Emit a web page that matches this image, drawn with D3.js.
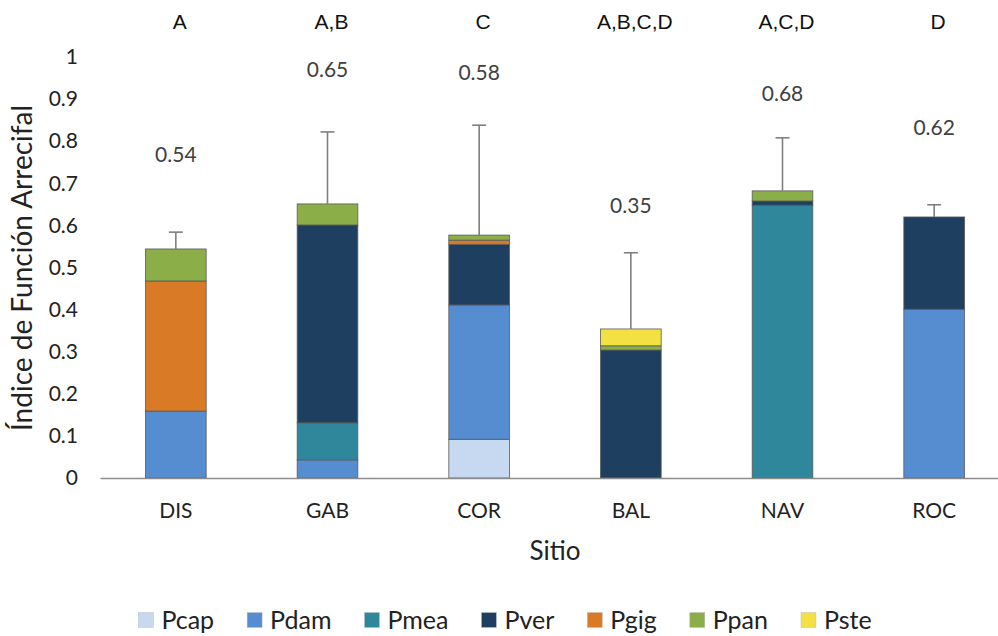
<!DOCTYPE html>
<html>
<head>
<meta charset="utf-8">
<script src="https://cdn.jsdelivr.net/npm/d3@7/dist/d3.min.js"></script>
<style>
  html, body { margin: 0; padding: 0; background: #fff; }
  svg { display: block; }
</style>
</head>
<body>
<svg id="chart" width="998" height="636"></svg>
<script>
// Sites (x categories)
const sites = ["DIS", "GAB", "COR", "BAL", "NAV", "ROC"];

// Species contributions to the reef function index, per site
const species = ["Pcap", "Pdam", "Pmea", "Pver", "Pgig", "Ppan", "Pste"];
const Pcap = [0,     0,     0.092, 0,     0,     0];
const Pdam = [0.159, 0.043, 0.319, 0,     0,     0.401];
const Pmea = [0,     0.088, 0,     0,     0.648, 0];
const Pver = [0,     0.470, 0.144, 0.304, 0.010, 0.219];
const Pgig = [0.309, 0,     0.010, 0,     0,     0];
const Ppan = [0.076, 0.050, 0.012, 0.010, 0.024, 0];
const Pste = [0,     0,     0,     0.040, 0,     0];

// Upper error (SD) on each site total
const errUp = [0.040, 0.171, 0.261, 0.181, 0.126, 0.029];

// Significance groups above each site
const groups = ["A", "A,B", "C", "A,B,C,D", "A,C,D", "D"];

// Y axis ticks
const yTicks = [0, 0.1, 0.2, 0.3, 0.4, 0.5, 0.6, 0.7, 0.8, 0.9, 1];

// Height (in index units) at which each total label sits
const totalLabelAt = [0.767, 0.969, 0.962, 0.648, 0.914, 0.831];

const colors = {
  Pcap: "#c6d9f0",
  Pdam: "#568dd0",
  Pmea: "#2e879b",
  Pver: "#1f3f60",
  Pgig: "#d97a27",
  Ppan: "#8cae48",
  Pste: "#f3e042"
};

const seriesValues = { Pcap, Pdam, Pmea, Pver, Pgig, Ppan, Pste };
const rows = sites.map((s, i) => {
  const r = { site: s };
  species.forEach(sp => r[sp] = seriesValues[sp][i]);
  return r;
});
const totals = rows.map(r => d3.sum(species, sp => r[sp]));

const svg = d3.select("#chart");
const uiFont = "Lato, 'Open Sans', sans-serif";

const x = d3.scaleBand()
  .domain(sites)
  .range([100, 1010])
  .paddingInner(0.6)
  .paddingOuter(0.3);

const y = d3.scaleLinear()
  .domain([0, 1])
  .range([478, 57]);

// Y axis: labels only
const yAxis = svg.append("g")
  .attr("transform", "translate(80,0)")
  .call(d3.axisLeft(y).tickValues(yTicks).tickSize(0).tickPadding(2)
    .tickFormat(d => d3.format(".1~f")(d)));
yAxis.select(".domain").remove();
yAxis.selectAll("text")
  .attr("font-family", uiFont)
  .attr("font-size", 21)
  .attr("fill", "#222");

// Stacked bars
const stack = d3.stack().keys(species);
const layers = stack(rows);

svg.append("g")
  .selectAll("g")
  .data(layers)
  .join("g")
  .attr("fill", d => colors[d.key])
  .selectAll("rect")
  .data(d => d.filter(p => p[1] - p[0] > 0))
  .join("rect")
  .attr("x", d => x(d.data.site))
  .attr("width", x.bandwidth())
  .attr("y", d => y(d[1]))
  .attr("height", d => y(d[0]) - y(d[1]))
  .attr("stroke", "#5a5a5a")
  .attr("stroke-width", 0.8);

// Error bars (upper only)
const eb = svg.append("g").attr("stroke", "#7f7f7f").attr("stroke-width", 1.6);
sites.forEach((s, i) => {
  const cx = x(s) + x.bandwidth() / 2;
  eb.append("line")
    .attr("x1", cx).attr("x2", cx)
    .attr("y1", y(totals[i])).attr("y2", y(totals[i] + errUp[i]));
  eb.append("line")
    .attr("x1", cx - 7).attr("x2", cx + 7)
    .attr("y1", y(totals[i] + errUp[i])).attr("y2", y(totals[i] + errUp[i]));
});

// X axis
const xAxis = svg.append("g")
  .attr("transform", "translate(0,478)")
  .call(d3.axisBottom(x).tickSize(0).tickSizeOuter(0));
xAxis.select(".domain").attr("stroke", "#8c8c8c").attr("stroke-width", 1.3);
xAxis.selectAll("text")
  .attr("font-family", uiFont)
  .attr("font-size", 21)
  .attr("fill", "#222")
  .attr("y", 33)
  .attr("dy", "0.35em");

// Total value labels
svg.append("g")
  .selectAll("text")
  .data(sites)
  .join("text")
  .attr("x", d => x(d) + x.bandwidth() / 2)
  .attr("y", (d, i) => y(totalLabelAt[i]))
  .attr("dy", "0.35em")
  .attr("text-anchor", "middle")
  .attr("font-family", uiFont)
  .attr("font-size", 21)
  .attr("fill", "#404040")
  .text((d, i) => d3.format(".2f")(totals[i]));

// Significance letters
svg.append("g")
  .selectAll("text")
  .data(sites)
  .join("text")
  .attr("x", d => x(d) + x.bandwidth() / 2 + 4)
  .attr("y", 22)
  .attr("dy", "0.35em")
  .attr("text-anchor", "middle")
  .attr("font-family", "'Liberation Sans', Arial, sans-serif")
  .attr("font-size", 21)
  .attr("fill", "#111")
  .text((d, i) => groups[i]);

// Axis titles
svg.append("text")
  .attr("transform", "translate(22,268) rotate(-90)")
  .attr("text-anchor", "middle")
  .attr("dy", "0.35em")
  .attr("font-family", uiFont)
  .attr("font-size", 28)
  .attr("fill", "#222")
  .text("Índice de Función Arrecifal");

svg.append("text")
  .attr("x", 555)
  .attr("y", 551)
  .attr("dy", "0.35em")
  .attr("text-anchor", "middle")
  .attr("font-family", uiFont)
  .attr("font-size", 26)
  .attr("fill", "#222")
  .text("Sitio");

// Legend
const legend = svg.append("g");
const sq = 15, gapText = 8, gapItem = 33;
let cursor = 0;
species.forEach(sp => {
  const g = legend.append("g");
  g.append("rect")
    .attr("width", sq).attr("height", sq)
    .attr("y", -sq / 2)
    .attr("fill", colors[sp])
    .attr("stroke", "#bfbfbf").attr("stroke-width", 0.5);
  const t = g.append("text")
    .attr("x", sq + gapText)
    .attr("dy", "0.35em")
    .attr("font-family", uiFont)
    .attr("font-size", 25)
    .attr("fill", "#222")
    .text(sp);
  const w = sq + gapText + t.node().getComputedTextLength();
  g.attr("transform", `translate(${cursor},0)`);
  cursor += w + gapItem;
});
const legendWidth = cursor - gapItem;
legend.attr("transform", `translate(${505 - legendWidth / 2},620)`);
</script>
</body>
</html>
